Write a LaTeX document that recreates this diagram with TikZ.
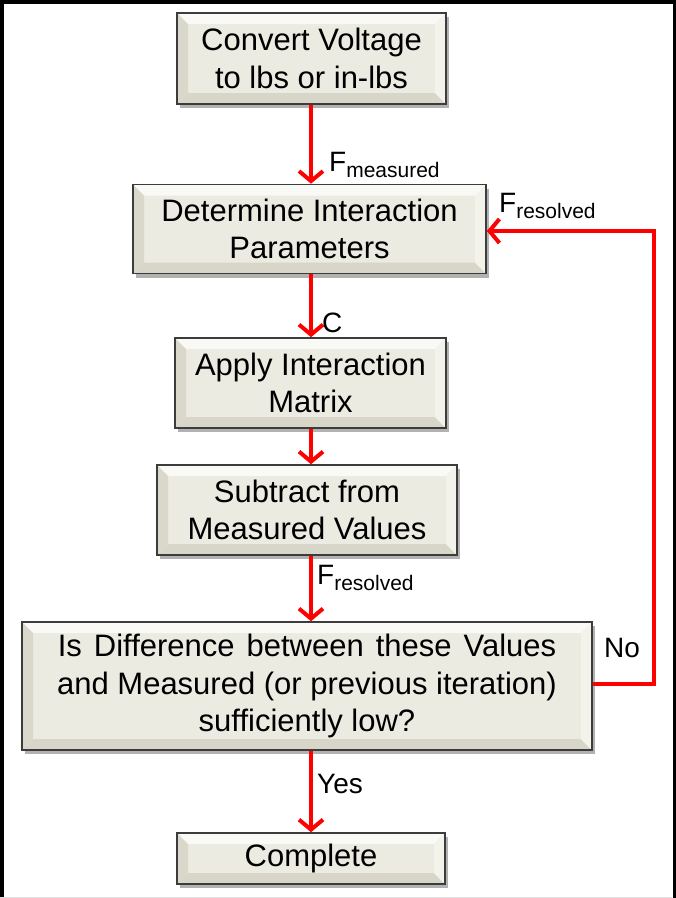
\documentclass[tikz,border=0pt]{standalone}
\usepackage{fontspec}
\setmainfont{Liberation Sans}
\usetikzlibrary{arrows.meta,shadows,calc}
\definecolor{boxfill}{HTML}{ECEBE2}
\definecolor{bvtop}{HTML}{F9F9F5}
\definecolor{bvleft}{HTML}{DAD8CB}
\definecolor{bvright}{HTML}{F3F2EB}
\definecolor{bvbot}{HTML}{D8D6C9}
\definecolor{boxline}{HTML}{3C3C3C}
\definecolor{arrred}{HTML}{FF0000}
\tikzset{
  bevelbox/.style={draw=boxline, line width=1.6pt, fill=boxfill, align=center,
    inner sep=0pt, font=\fontsize{31}{37.5}\selectfont,
    drop shadow={shadow xshift=3pt, shadow yshift=-4pt, fill=black, opacity=.3},
    path picture={
      \path (path picture bounding box.south west) coordinate (pSW)
            (path picture bounding box.north east) coordinate (pNE);
      \path (pSW |- pNE) coordinate (pNW) (pNE |- pSW) coordinate (pSE);
      \fill[bvtop] (pNW) -- (pNE) -- ([shift={(-11pt,-11pt)}]pNE) -- ([shift={(11pt,-11pt)}]pNW) -- cycle;
      \fill[bvbot] (pSW) -- (pSE) -- ([shift={(-11pt,11pt)}]pSE) -- ([shift={(11pt,11pt)}]pSW) -- cycle;
      \fill[bvleft] (pSW) -- (pNW) -- ([shift={(11pt,-11pt)}]pNW) -- ([shift={(11pt,11pt)}]pSW) -- cycle;
      \fill[bvright] (pSE) -- (pNE) -- ([shift={(-11pt,-11pt)}]pNE) -- ([shift={(-11pt,11pt)}]pSE) -- cycle;
    }},
  arr/.style={draw=arrred, line width=4pt, -{Straight Barb[length=10pt,width=24pt,line width=4pt]}},
  lbl/.style={inner sep=0pt, anchor=base west, font=\fontsize{28}{30}\selectfont},
}
\newcommand{\subl}[1]{{\fontsize{21}{21}\selectfont\raisebox{-6pt}{#1}}}
\newcommand{\wsp}{\hspace{12pt}}
\begin{document}
\begin{tikzpicture}[x=1pt,y=-1pt]
\useasboundingbox (0,0) rectangle (676,898);
\fill[white] (0,0) rectangle (676,898);
% frame
\draw[black, line width=4pt] (2,898) -- (2,2) -- (674.5,2) -- (674.5,898);
\draw[black!12, line width=1pt] (0,897.5) -- (672,897.5);

% boxes
\node[bevelbox, minimum width=269pt, minimum height=91pt] (b1) at (311.5,58.5) {Convert Voltage\\to lbs or in-lbs};
\node[bevelbox, minimum width=353pt, minimum height=89pt] (b2) at (309.5,229) {Determine Interaction\\Parameters};
\node[bevelbox, minimum width=271pt, minimum height=90pt] (b3) at (310.5,383) {Apply Interaction\\Matrix};
\node[bevelbox, minimum width=300pt, minimum height=90pt] (b4) at (307,510) {Subtract from\\Measured Values};
\node[bevelbox, minimum width=570pt, minimum height=128pt] (b5) at (307,686) {Is\wsp Difference\wsp between\wsp these\wsp Values\\and Measured (or previous iteration)\\sufficiently low?};
\node[bevelbox, minimum width=268pt, minimum height=51pt] (b6) at (311,858.5) {Complete};

% arrows
\coordinate (ax) at (311,0);
\coordinate (fb) at (654,0);
\draw[arr] (b1.south -| ax) -- (b2.north -| ax);
\draw[arr] (b2.south -| ax) -- (b3.north -| ax);
\draw[arr] (b3.south -| ax) -- (b4.north -| ax);
\draw[arr] (b4.south -| ax) -- (b5.north -| ax);
\draw[arr] (b5.south -| ax) -- (b6.north -| ax);
\draw[arr] ([yshift=2pt]b5.east) -- ([yshift=2pt]b5.east -| fb) -- ([yshift=-2pt]fb |- b2.east) -- ([yshift=-2pt]b2.east);

% labels
\node[lbl] (l1) at (329,171) {F\subl{measured}};
\node[lbl] (l2) at (322,332) {C};
\node[lbl] (l3) at (499,212) {F\subl{resolved}};
\node[lbl] (l4) at (317,584) {F\subl{resolved}};
\node[lbl] (l5) at (317,793) {Yes};
\node[lbl] (l6) at (604,657) {No};
\end{tikzpicture}
\end{document}
